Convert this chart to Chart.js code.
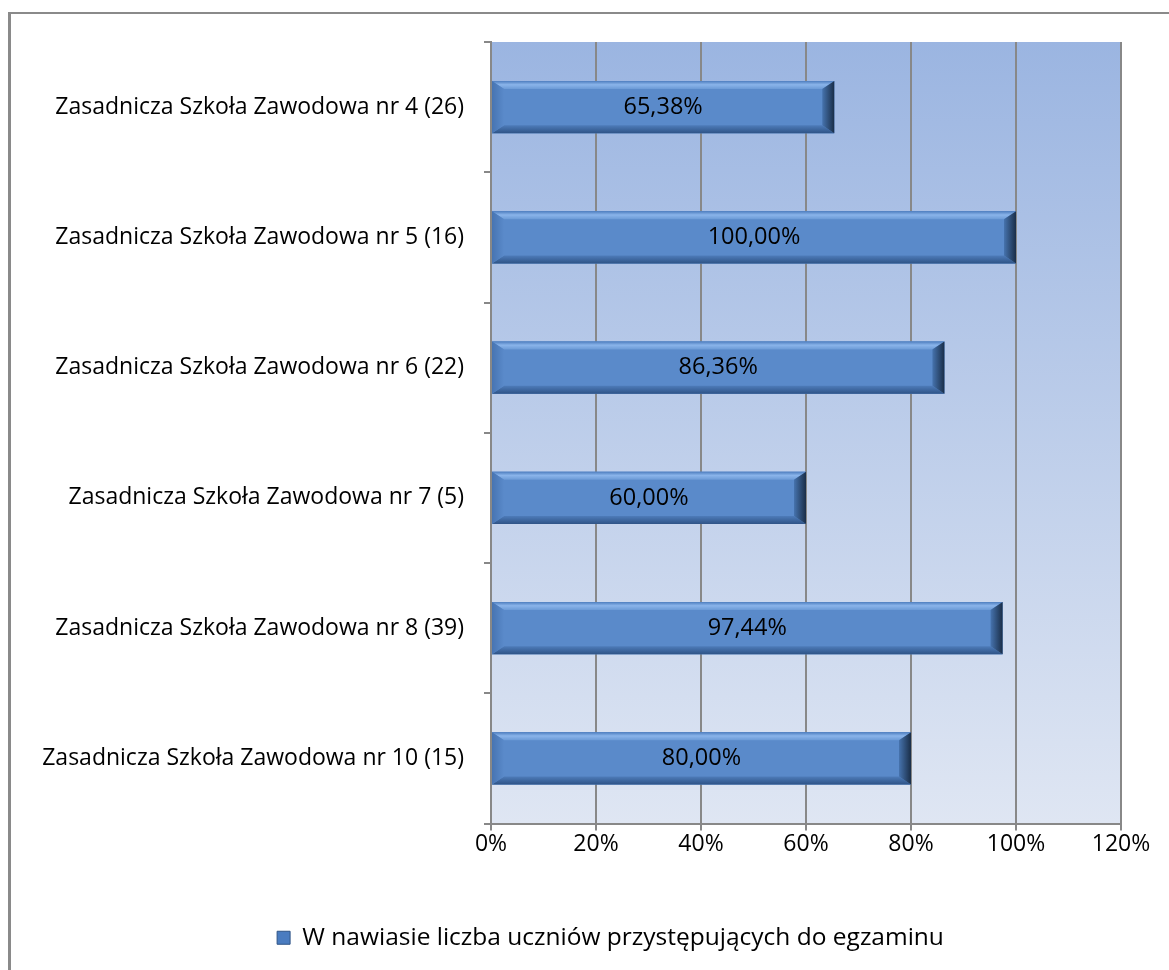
<!DOCTYPE html>
<html>
<head>
<meta charset="utf-8">
<script src="https://cdn.jsdelivr.net/npm/chart.js@4.4.0/dist/chart.umd.min.js"></script>
<style>
  html, body { margin: 0; padding: 0; background: #fff; }
  #frame { position: absolute; left: 8px; top: 12px; width: 1170px; height: 980px;
           border-left: 3px solid #8a8a8a; border-top: 2px solid #8a8a8a; }
  #wrap { position: absolute; left: 0; top: 0; width: 1169px; height: 970px; }
</style>
</head>
<body>
<div id="frame"></div>
<div id="wrap"><canvas id="chart" width="1169" height="970"></canvas></div>
<script>
const schools = [
  'Zasadnicza Szkoła Zawodowa nr 4 (26)',
  'Zasadnicza Szkoła Zawodowa nr 5 (16)',
  'Zasadnicza Szkoła Zawodowa nr 6 (22)',
  'Zasadnicza Szkoła Zawodowa nr 7 (5)',
  'Zasadnicza Szkoła Zawodowa nr 8 (39)',
  'Zasadnicza Szkoła Zawodowa nr 10 (15)'
];
const passRates = [65.38, 100, 86.36, 60, 97.44, 80];
const seriesName = 'W nawiasie liczba uczniów przystępujących do egzaminu';
const xTicks = [0, 20, 40, 60, 80, 100, 120];

const FONT = '"Open Sans", "Noto Sans", sans-serif';

// gradient background behind the plot area
const plotBg = {
  id: 'plotBg',
  beforeDraw(chart) {
    const { ctx, chartArea: a } = chart;
    const g = ctx.createLinearGradient(0, a.top, 0, a.bottom);
    g.addColorStop(0, '#9bb5e1');
    g.addColorStop(1, '#dfe6f3');
    ctx.save();
    ctx.fillStyle = g;
    ctx.fillRect(a.left, a.top, a.right - a.left, a.bottom - a.top);
    ctx.restore();
  }
};

// the legend in the original sits a bit right of centre
const legendShift = {
  id: 'legendShift',
  afterLayout(chart) {
    chart.legend.left += 80;
  }
};

// bevelled bars + value labels
const bevel = {
  id: 'bevel',
  afterDatasetsDraw(chart) {
    const ctx = chart.ctx;
    const meta = chart.getDatasetMeta(0);
    meta.data.forEach((bar, i) => {
      const x0 = bar.base, x1 = bar.x;
      const y0 = bar.y - bar.height / 2, y1 = bar.y + bar.height / 2;
      const bx = 12, by = 8;
      ctx.save();
      ctx.fillStyle = '#5a8aca';
      ctx.fillRect(x0, y0, x1 - x0, y1 - y0);
      // top bevel
      let g = ctx.createLinearGradient(0, y0, 0, y0 + by);
      g.addColorStop(0, '#4f7fc0');
      g.addColorStop(0.45, '#8ab4ea');
      g.addColorStop(1, '#6b9ad6');
      ctx.fillStyle = g;
      ctx.beginPath();
      ctx.moveTo(x0, y0); ctx.lineTo(x1, y0); ctx.lineTo(x1 - bx, y0 + by); ctx.lineTo(x0 + bx, y0 + by);
      ctx.closePath(); ctx.fill();
      // bottom bevel
      g = ctx.createLinearGradient(0, y1 - by, 0, y1);
      g.addColorStop(0, '#4e7cba');
      g.addColorStop(1, '#2f5487');
      ctx.fillStyle = g;
      ctx.beginPath();
      ctx.moveTo(x0, y1); ctx.lineTo(x1, y1); ctx.lineTo(x1 - bx, y1 - by); ctx.lineTo(x0 + bx, y1 - by);
      ctx.closePath(); ctx.fill();
      // left bevel
      g = ctx.createLinearGradient(x0, 0, x0 + bx, 0);
      g.addColorStop(0, '#4774b2');
      g.addColorStop(1, '#5a8aca');
      ctx.fillStyle = g;
      ctx.beginPath();
      ctx.moveTo(x0, y0); ctx.lineTo(x0 + bx, y0 + by); ctx.lineTo(x0 + bx, y1 - by); ctx.lineTo(x0, y1);
      ctx.closePath(); ctx.fill();
      // right bevel
      g = ctx.createLinearGradient(x1 - bx, 0, x1, 0);
      g.addColorStop(0, '#4673ae');
      g.addColorStop(1, '#1a2e48');
      ctx.fillStyle = g;
      ctx.beginPath();
      ctx.moveTo(x1, y0); ctx.lineTo(x1 - bx, y0 + by); ctx.lineTo(x1 - bx, y1 - by); ctx.lineTo(x1, y1);
      ctx.closePath(); ctx.fill();
      // label
      ctx.fillStyle = '#000';
      ctx.font = '23.5px ' + FONT;
      ctx.textAlign = 'center';
      ctx.textBaseline = 'middle';
      ctx.fillText(passRates[i].toFixed(2).replace('.', ',') + '%', (x0 + x1) / 2, bar.y);
      ctx.restore();
    });
  }
};

new Chart(document.getElementById('chart'), {
  type: 'bar',
  data: {
    labels: schools,
    datasets: [{
      label: seriesName,
      data: passRates,
      backgroundColor: '#5a8aca',
      borderWidth: 0,
      categoryPercentage: 1,
      barPercentage: 0.4
    }]
  },
  options: {
    indexAxis: 'y',
    responsive: false,
    animation: false,
    layout: { padding: { left: 20, right: 48, top: 42, bottom: 10 } },
    plugins: {
      tooltip: { enabled: false },
      legend: {
        position: 'bottom',
        labels: {
          boxWidth: 13, boxHeight: 13, padding: 10, color: '#000',
          font: { family: FONT, size: 24.5 },
          generateLabels: () => [{ text: seriesName, fillStyle: '#4a7cc0', strokeStyle: '#2f5487', lineWidth: 1 }]
        }
      }
    },
    scales: {
      x: {
        min: 0, max: 120,
        afterBuildTicks: s => { s.ticks = xTicks.map(v => ({ value: v })); },
        afterFit: s => { s.height = 92; },
        border: { color: '#888', width: 2 },
        grid: { color: '#888', lineWidth: 2, tickLength: 7 },
        ticks: { color: '#000', padding: 0, font: { family: FONT, size: 23 }, callback: v => v + '%' }
      },
      y: {
        afterFit: s => { s.width = 471; },
        border: { color: '#888', width: 2 },
        grid: { color: '#888', lineWidth: 2, drawOnChartArea: false, tickLength: 7, offset: true },
        ticks: { color: '#000', padding: 20, font: { family: FONT, size: 23 } }
      }
    }
  },
  plugins: [plotBg, legendShift, bevel]
});
</script>
</body>
</html>
